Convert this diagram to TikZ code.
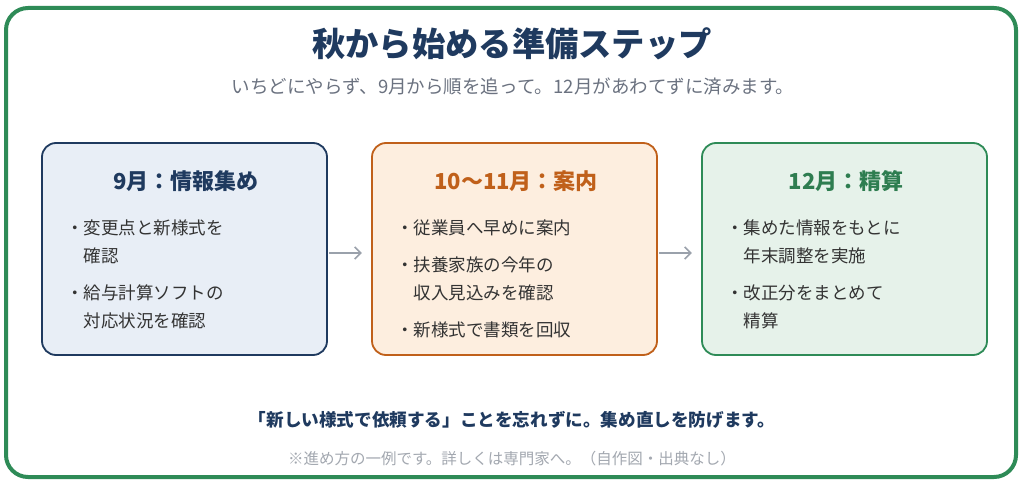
\documentclass[tikz,border=0pt]{standalone}
\usepackage{fontspec}
\setmainfont{Noto Sans CJK JP}
\usetikzlibrary{arrows.meta}
\definecolor{navy}{HTML}{1F3A5F}
\definecolor{orng}{HTML}{C0601A}
\definecolor{grn}{HTML}{2E8B57}
\definecolor{grntext}{HTML}{2E7D50}
\definecolor{fillA}{HTML}{E8EEF6}
\definecolor{fillB}{HTML}{FDEEDF}
\definecolor{fillC}{HTML}{E6F2EA}
\definecolor{body}{HTML}{333333}
\definecolor{subgray}{HTML}{6B7280}
\definecolor{notegray}{HTML}{A3A8B0}
\definecolor{arrowgray}{HTML}{9AA1AB}
\tikzset{
  stepbox/.style={draw, line width=1.8pt, rounded corners=14pt},
  boxhead/.style={anchor=base, font=\fontsize{22}{26}\selectfont\bfseries, inner sep=0pt},
  item/.style={anchor=base west, font=\fontsize{17.5}{21}\selectfont, text=body, inner sep=0pt},
  flowarrow/.style={draw=arrowgray, line width=1.6pt, -{Straight Barb[length=6pt,width=12pt,line width=1.6pt]}}
}
\begin{document}
\begin{tikzpicture}[x=1pt,y=-1pt]
\useasboundingbox (0,0) rectangle (1024,484);
\fill[white] (0,0) rectangle (1024,484);
\draw[grn, line width=4pt, rounded corners=22pt] (6,8) rectangle (1016,477);

\node[anchor=base, font=\fontsize{33.3}{38}\selectfont\bfseries, text=navy, inner sep=0pt] (title) at (512,57) {秋から始める準備ステップ};
\node[anchor=base, font=\fontsize{18.5}{22}\selectfont, text=subgray, inner sep=0pt] (sub) at (513,94) {いちどにやらず、9月から順を追って。12月があわてずに済みます。};

% boxes
\draw[stepbox, draw=navy, fill=fillA] (42,143) rectangle (327,355);
\draw[stepbox, draw=orng, fill=fillB] (372,143) rectangle (657,355);
\draw[stepbox, draw=grn, fill=fillC] (702,143) rectangle (987,355);
\node (boxA) at (184.5,249) [minimum width=285pt, minimum height=212pt, inner sep=0pt] {};
\node (boxB) at (514.5,249) [minimum width=285pt, minimum height=212pt, inner sep=0pt] {};
\node (boxC) at (844.5,249) [minimum width=285pt, minimum height=212pt, inner sep=0pt] {};

\node[boxhead, text=navy] (hA) at (186,189.5) {9月：情報集め};
\node[boxhead, text=orng] (hB) at (516,189.5) {10〜11月：案内};
\node[boxhead, text=grntext] (hC) at (846,189.5) {12月：精算};

\node[item] (a1) at (66,234) {・変更点と新様式を};
\node[item] (a2) at (83.5,262) {確認};
\node[item] (a3) at (66,299) {・給与計算ソフトの};
\node[item] (a4) at (83.5,327) {対応状況を確認};

\node[item] (b1) at (396,234) {・従業員へ早めに案内};
\node[item] (b2) at (396,271) {・扶養家族の今年の};
\node[item] (b3) at (413.5,299) {収入見込みを確認};
\node[item] (b4) at (396,336) {・新様式で書類を回収};

\node[item] (c1) at (726,234) {・集めた情報をもとに};
\node[item] (c2) at (743.5,262) {年末調整を実施};
\node[item] (c3) at (726,299) {・改正分をまとめて};
\node[item] (c4) at (743.5,327) {精算};

\draw[flowarrow] ([xshift=2pt,yshift=-4pt]boxA.east) -- ([xshift=-10pt,yshift=-4pt]boxB.west);
\draw[flowarrow] ([xshift=2pt,yshift=-4pt]boxB.east) -- ([xshift=-10pt,yshift=-4pt]boxC.west);

\node[anchor=base, font=\fontsize{17.6}{21}\selectfont\bfseries, text=navy, inner sep=0pt] (msg) at (512,426.5) {「新しい様式で依頼する」ことを忘れずに。集め直しを防げます。};
\node[anchor=base, font=\fontsize{15.5}{19}\selectfont, text=notegray, inner sep=0pt] (note) at (512,464) {※進め方の一例です。詳しくは専門家へ。（自作図・出典なし）};
\end{tikzpicture}
\end{document}
